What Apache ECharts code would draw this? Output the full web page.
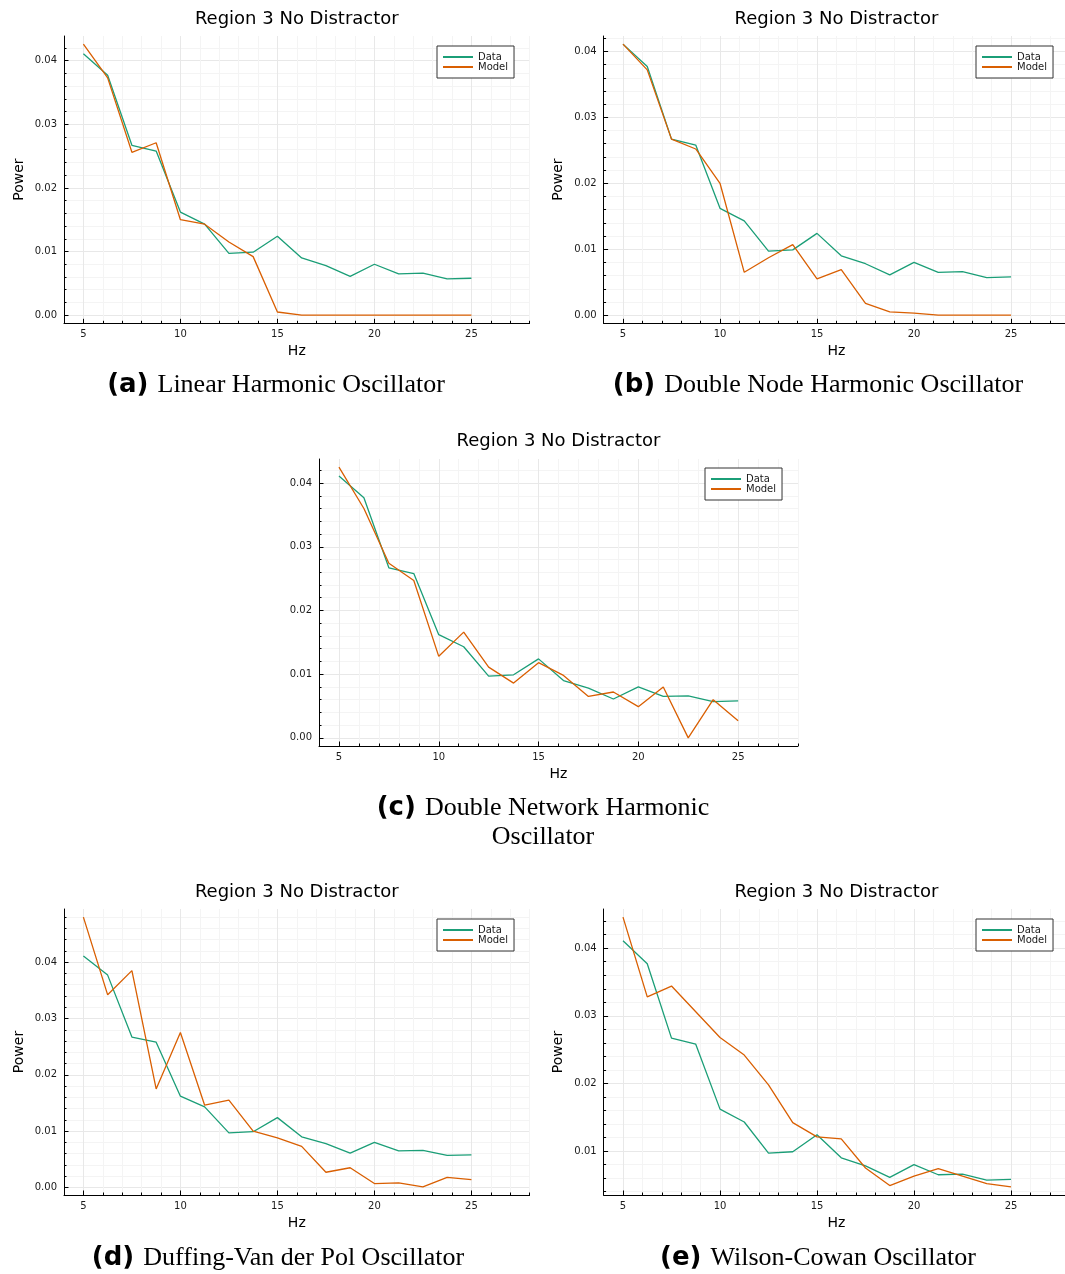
<!DOCTYPE html>
<html>
<head>
<meta charset="utf-8">
<script src="https://cdn.jsdelivr.net/npm/echarts@6/dist/echarts.min.js"></script>
<style>
  html, body { margin: 0; padding: 0; background: #fff; }
  #chart { width: 1065px; height: 1274px; }
</style>
</head>
<body>
<div id="chart"></div>
<script>
// Frequency bins (Hz) shared by every panel
const HZ = [5, 6.25, 7.5, 8.75, 10, 11.25, 12.5, 13.75, 15, 16.25, 17.5, 18.75, 20, 21.25, 22.5, 23.75, 25];

// Measured power spectrum, region 3, no distractor
const DATA_POWER = [0.0411, 0.0377, 0.0267, 0.0258, 0.0162, 0.0143, 0.0097, 0.0099, 0.0124, 0.0090, 0.0078, 0.0061, 0.0080, 0.0065, 0.0066, 0.0057, 0.0058];

// Fitted model spectra
const MODEL_LINEAR = [0.0426, 0.0373, 0.0256, 0.0271, 0.0150, 0.0143, 0.0115, 0.0092, 0.0005, 0.0000, 0.0000, 0.0000, 0.0000, 0.0000, 0.0000, 0.0000, 0.0000];
const MODEL_DOUBLE_NODE = [0.0411, 0.0372, 0.0267, 0.0252, 0.0200, 0.0065, 0.0087, 0.0107, 0.0055, 0.0069, 0.0018, 0.0005, 0.0003, 0.0000, 0.0000, 0.0000, 0.0000];
const MODEL_DOUBLE_NETWORK = [0.0425, 0.0360, 0.0274, 0.0247, 0.0128, 0.0166, 0.0111, 0.0086, 0.0118, 0.0098, 0.0065, 0.0072, 0.0049, 0.0080, 0.0000, 0.0060, 0.0027];
const MODEL_DUFFING = [0.0480, 0.0342, 0.0385, 0.0175, 0.0275, 0.0146, 0.0155, 0.0100, 0.0088, 0.0073, 0.0027, 0.0035, 0.0007, 0.0008, 0.0001, 0.0018, 0.0014];
const MODEL_WILSON_COWAN = [0.0446, 0.0328, 0.0344, 0.0306, 0.0268, 0.0242, 0.0198, 0.0142, 0.0121, 0.0118, 0.0075, 0.0049, 0.0063, 0.0074, 0.0063, 0.0052, 0.0047];

// Axis ticks
const X_RANGE = [4, 28];
const X_TICKS = [5, 10, 15, 20, 25];
const X_MINOR_STEP = 1;
const Y_TICKS = [0, 0.01, 0.02, 0.03, 0.04];
const Y_MINOR_STEP = 0.002;

const SERIES_NAMES = ['Data', 'Model'];
const PLOT_TITLE = 'Region 3 No Distractor';

const COLORS = ['#1B9E77', '#D95F02'];
const SANS = '"DejaVu Sans", sans-serif';
const SERIF = '"Liberation Serif", "DejaVu Serif", serif';

// Panel layout: plot rectangle, legend corner and caption
const PANELS = [
  { model: MODEL_LINEAR, yName: true,
    rect: { left: 64, top: 36, width: 465.6, height: 287.3 }, legend: { left: 437, top: 46 },
    titleY: 19.3,
    caption: [{ x: 276, y: 385.5, label: '(a)', text: 'Linear Harmonic Oscillator' }] },
  { model: MODEL_DOUBLE_NODE, yName: true,
    rect: { left: 603.6, top: 36, width: 465.6, height: 287.3 }, legend: { left: 976, top: 46 },
    titleY: 19.3,
    caption: [{ x: 818, y: 385.5, label: '(b)', text: 'Double Node Harmonic Oscillator' }] },
  { model: MODEL_DOUBLE_NETWORK, yName: false,
    rect: { left: 319, top: 459, width: 479, height: 287 }, legend: { left: 705, top: 468 },
    titleY: 441,
    caption: [{ x: 543, y: 808.5, label: '(c)', text: 'Double Network Harmonic' },
              { x: 543, y: 837, label: '', text: 'Oscillator' }] },
  { model: MODEL_DUFFING, yName: true,
    rect: { left: 64, top: 909, width: 465.6, height: 286 }, legend: { left: 437, top: 919 },
    titleY: 892,
    caption: [{ x: 278, y: 1258.5, label: '(d)', text: 'Duffing-Van der Pol Oscillator' }] },
  { model: MODEL_WILSON_COWAN, yName: true,
    rect: { left: 603.6, top: 909, width: 465.6, height: 286 }, legend: { left: 976, top: 919 },
    titleY: 892,
    caption: [{ x: 818, y: 1258.5, label: '(e)', text: 'Wilson-Cowan Oscillator' }] }
];

function stepValues(lo, hi, step) {
  const out = [];
  for (let k = Math.ceil(lo / step - 1e-9); k * step <= hi + 1e-12; k++) {
    out.push(+(k * step).toFixed(6));
  }
  return out;
}

const option = {
  animation: false,
  backgroundColor: '#ffffff',
  grid: [], xAxis: [], yAxis: [], series: [], legend: [], graphic: []
};

PANELS.forEach((p, i) => {
  option.grid.push(Object.assign({ containLabel: false, outerBoundsMode: 'none' }, p.rect));

  // y limits widened by 3% of the data span on each side
  const all = DATA_POWER.concat(p.model);
  const lo = Math.min(...all), hi = Math.max(...all);
  const pad = 0.03 * (hi - lo);
  const yMin = lo - pad, yMax = hi + pad;
  const yMajor = Y_TICKS.filter(v => v >= yMin && v <= yMax);
  const yMinor = stepValues(yMin, yMax, Y_MINOR_STEP);
  const xMinor = stepValues(X_RANGE[0], X_RANGE[1], X_MINOR_STEP);

  const tickLabel = { color: '#1a1a1a', fontSize: 10, fontFamily: SANS };

  // minor axes: fine grid and short inner ticks
  option.xAxis.push({
    gridIndex: i, type: 'value', min: X_RANGE[0], max: X_RANGE[1], position: 'bottom',
    axisLine: { show: false, onZero: false },
    axisTick: { show: true, inside: true, length: 2.5, customValues: xMinor, lineStyle: { color: '#000', width: 1 } },
    axisLabel: { show: false },
    splitLine: { show: true, lineStyle: { color: '#f4f4f4', width: 1 } }
  });
  option.yAxis.push({
    gridIndex: i, type: 'value', min: yMin, max: yMax, position: 'left',
    axisLine: { show: false, onZero: false },
    axisTick: { show: true, inside: true, length: 2.5, customValues: yMinor, lineStyle: { color: '#000', width: 1 } },
    axisLabel: { show: false },
    splitLine: { show: true, lineStyle: { color: '#f4f4f4', width: 1 } }
  });
  // major axes: axis lines, labels, major grid
  option.xAxis.push({
    gridIndex: i, type: 'value', min: X_RANGE[0], max: X_RANGE[1], position: 'bottom',
    axisLine: { show: true, onZero: false, lineStyle: { color: '#000', width: 1 } },
    axisTick: { show: true, inside: true, length: 4.5, customValues: X_TICKS, lineStyle: { color: '#000', width: 1 } },
    axisLabel: Object.assign({ customValues: X_TICKS, margin: 6 }, tickLabel),
    splitLine: { show: true, lineStyle: { color: '#e8e8e8', width: 1 } },
    name: 'Hz', nameLocation: 'middle', nameGap: 21,
    nameTextStyle: { fontSize: 14, fontFamily: SANS, color: '#000' }
  });
  option.yAxis.push({
    gridIndex: i, type: 'value', min: yMin, max: yMax, position: 'left',
    axisLine: { show: true, onZero: false, lineStyle: { color: '#000', width: 1 } },
    axisTick: { show: true, inside: true, length: 4.5, customValues: yMajor, lineStyle: { color: '#000', width: 1 } },
    axisLabel: Object.assign({ customValues: yMajor, margin: 7, formatter: v => v.toFixed(2) }, tickLabel),
    splitLine: { show: true, lineStyle: { color: '#e8e8e8', width: 1 } },
    name: p.yName ? 'Power' : '', nameLocation: 'middle', nameGap: 38, nameRotate: 90,
    nameTextStyle: { fontSize: 14, fontFamily: SANS, color: '#000' }
  });

  [DATA_POWER, p.model].forEach((vals, s) => {
    option.series.push({
      type: 'line', name: SERIES_NAMES[s],
      xAxisIndex: 2 * i + 1, yAxisIndex: 2 * i + 1,
      data: HZ.map((h, j) => [h, vals[j]]),
      symbol: 'none', showSymbol: false,
      lineStyle: { color: COLORS[s], width: 1.3 },
      itemStyle: { color: COLORS[s] },
      z: 3 + s
    });
  });

  // line-only legend keys (symbol hidden)
  option.legend.push({
    left: p.legend.left, top: p.legend.top, orient: 'vertical',
    data: SERIES_NAMES, selectedMode: false,
    itemWidth: 30, itemHeight: 11, itemGap: 0,
    padding: [6, 6, 6, 5],
    borderColor: '#333', borderWidth: 1, backgroundColor: '#fff',
    itemStyle: { opacity: 0, borderWidth: 0 },
    textStyle: { fontSize: 10, fontFamily: SANS, color: '#1a1a1a' }
  });

  const cx = p.rect.left + p.rect.width / 2;
  option.graphic.push({
    type: 'text', x: cx, y: p.titleY, silent: true,
    style: { text: PLOT_TITLE, fill: '#000', font: '18px ' + SANS, align: 'center', verticalAlign: 'middle' }
  });

  p.caption.forEach(c => {
    const txt = (c.label ? '{b|' + c.label + ' }' : '') + '{s|' + c.text + '}';
    option.graphic.push({
      type: 'text', x: c.x, y: c.y, silent: true,
      style: {
        text: txt, align: 'center', verticalAlign: 'middle',
        rich: {
          b: { fontFamily: SANS, fontWeight: 'bold', fontSize: 26, fill: '#000' },
          s: { fontFamily: SERIF, fontSize: 26, fill: '#000' }
        }
      }
    });
  });
});

const chart = echarts.init(document.getElementById('chart'), null, { renderer: 'canvas' });
chart.setOption(option);
</script>
</body>
</html>
